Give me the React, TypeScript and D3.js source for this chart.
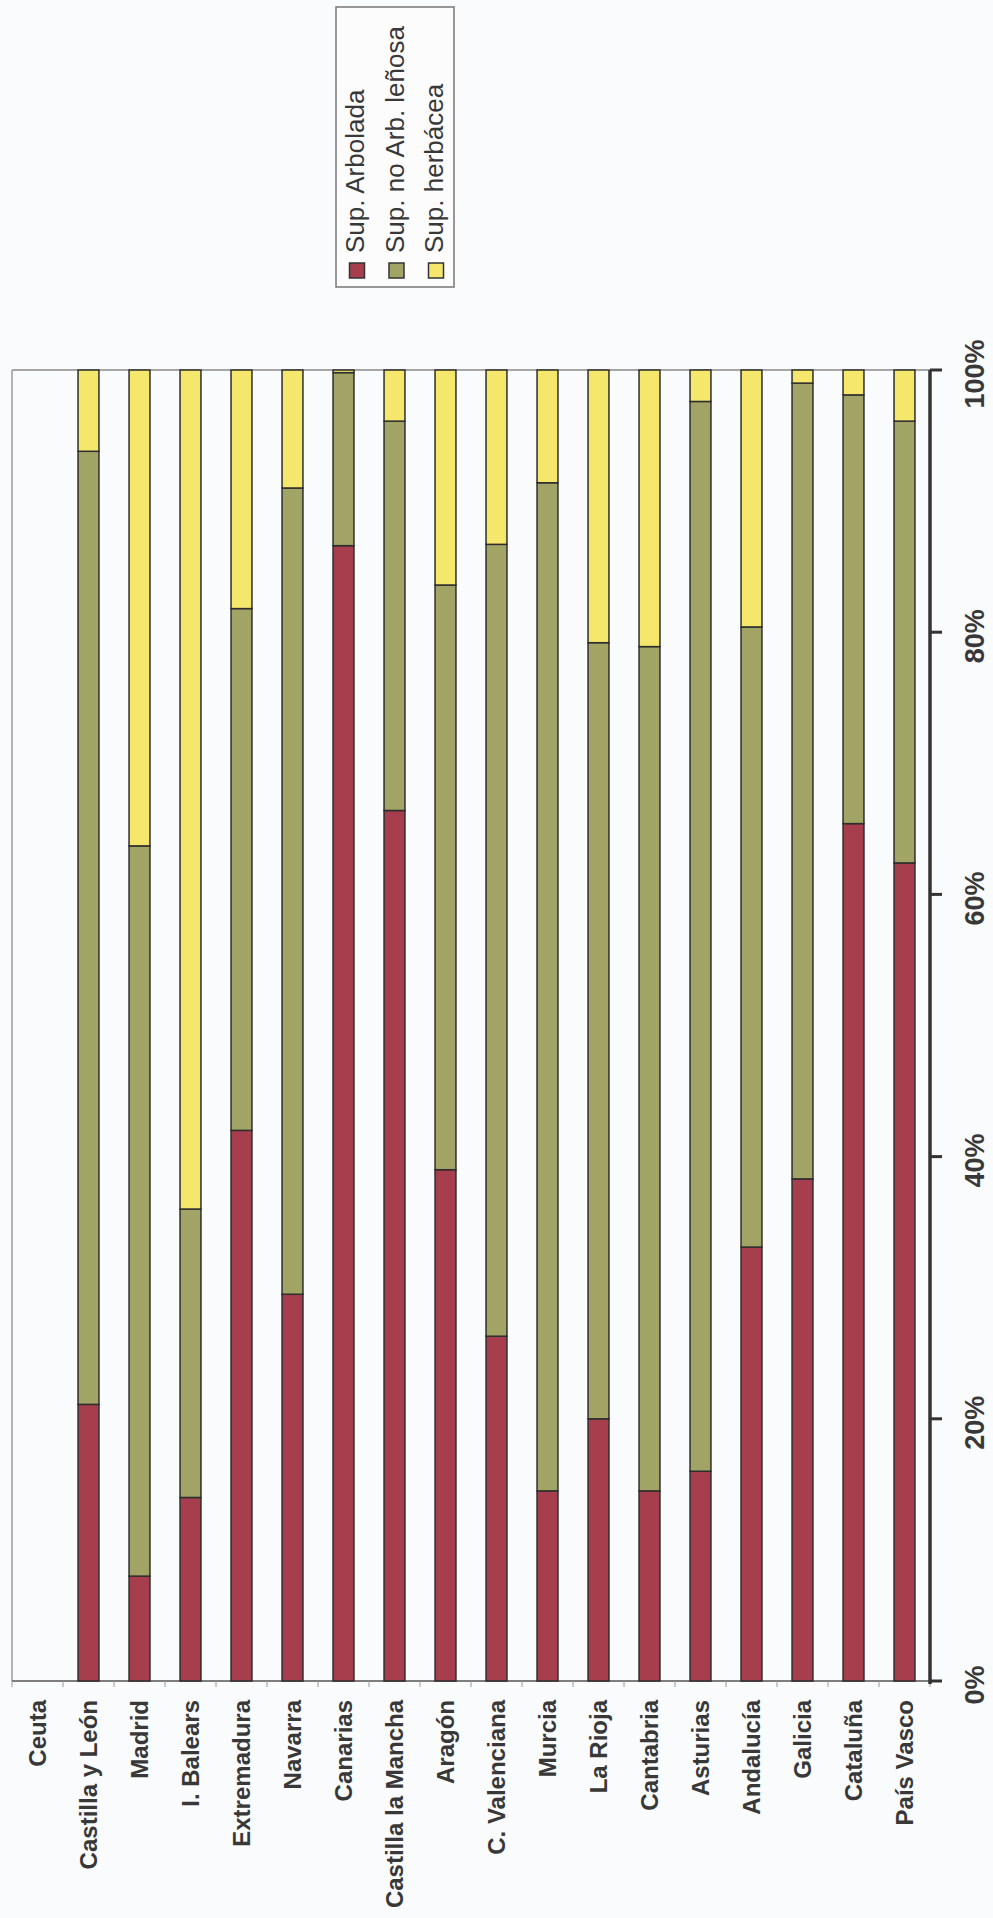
import React from "react";
import * as d3 from "d3";

const categories = [
  "Ceuta", "Castilla y León", "Madrid", "I. Balears", "Extremadura", "Navarra",
  "Canarias", "Castilla la Mancha", "Aragón", "C. Valenciana", "Murcia", "La Rioja",
  "Cantabria", "Asturias", "Andalucía", "Galicia", "Cataluña", "País Vasco",
];
const arbolada = [0, 21.1, 8.0, 14.0, 42.0, 29.5, 86.6, 66.4, 39.0, 26.3, 14.5, 20.0, 14.5, 16.0, 33.1, 38.3, 65.4, 62.4];
const noArbLenosa = [0, 72.7, 55.7, 22.0, 39.8, 61.5, 13.2, 29.7, 44.6, 60.4, 76.9, 59.2, 64.4, 81.6, 47.3, 60.7, 32.7, 33.7];
const herbacea = [0, 6.2, 36.3, 64.0, 18.2, 9.0, 0.2, 3.9, 16.4, 13.3, 8.6, 20.8, 21.1, 2.4, 19.6, 1.0, 1.9, 3.9];
const seriesNames = ["Sup. Arbolada", "Sup. no Arb. leñosa", "Sup. herbácea"];
const seriesKeys = ["arbolada", "lenosa", "herbacea"];
const colors = ["#A63E4E", "#A2A466", "#F5E76C"];
const tickValues = [0, 20, 40, 60, 80, 100];

const W = 993;
const H = 1918;
const left = 12;
const right = 930;
const top = 370;
const bottom = 1681;

export default function App() {
  const rows = categories.map((c, i) => ({
    cat: c,
    arbolada: arbolada[i],
    lenosa: noArbLenosa[i],
    herbacea: herbacea[i],
  }));
  const stacked = d3.stack<any>().keys(seriesKeys)(rows);
  const x = d3
    .scaleBand<string>()
    .domain(categories)
    .range([left, right])
    .paddingInner(0.59)
    .paddingOuter(0.295);
  const y = d3.scaleLinear().domain([0, 100]).range([bottom, top]);
  const step = x.step();
  const bw = x.bandwidth();

  const textColor = "#383838";
  const font = "'Liberation Sans', Arial, sans-serif";

  return (
    <svg
      width={W}
      height={H}
      viewBox={`0 0 ${W} ${H}`}
      style={{ position: "absolute", left: 0, top: 0, background: "#FAFBFD" }}
    >
      {/* plot frame */}
      <line x1={left} x2={right} y1={top} y2={top} stroke="#8a8a8a" strokeWidth={1.5} />
      <line x1={left} x2={left} y1={top} y2={bottom} stroke="#9a9a9a" strokeWidth={1.5} />
      <line x1={left} x2={right} y1={bottom} y2={bottom} stroke="#555" strokeWidth={1.5} />
      {d3.range(categories.length + 1).map((k) => (
        <line
          key={"bt" + k}
          x1={left + k * step}
          x2={left + k * step}
          y1={bottom}
          y2={bottom + 6}
          stroke="#9a9a9a"
          strokeWidth={1}
        />
      ))}

      {/* bars */}
      {stacked.map((s, si) => (
        <g key={s.key}>
          {s.map((d, i) => {
            const h = y(d[0]) - y(d[1]);
            if (h <= 0) return null;
            return (
              <rect
                key={i}
                x={x(categories[i])}
                y={y(d[1])}
                width={bw}
                height={h}
                fill={colors[si]}
                stroke="#2e2e2e"
                strokeWidth={1.5}
              />
            );
          })}
        </g>
      ))}

      {/* value axis on the right */}
      <line x1={right} x2={right} y1={top} y2={bottom + 3} stroke="#333" strokeWidth={3.5} />
      {tickValues.map((t) => (
        <g key={"t" + t}>
          <line x1={right} x2={right + 12} y1={y(t)} y2={y(t)} stroke="#333" strokeWidth={3} />
          <text
            transform={`translate(${984},${y(t) + 4}) rotate(-90)`}
            textAnchor="middle"
            fontFamily={font}
            fontWeight="bold"
            fontSize={27}
            fill={textColor}
          >
            {t + "%"}
          </text>
        </g>
      ))}

      {/* category labels */}
      {categories.map((c) => (
        <text
          key={"c" + c}
          transform={`translate(${(x(c) as number) + bw / 2 + 8},${1700}) rotate(-90)`}
          textAnchor="end"
          fontFamily={font}
          fontWeight="bold"
          fontSize={24}
          fill={textColor}
        >
          {c}
        </text>
      ))}

      {/* legend */}
      <rect x={336} y={7} width={118} height={280} fill="#FCFCFD" stroke="#777" strokeWidth={1.5} />
      {seriesNames.map((n, i) => {
        const cx = 357 + i * 39.5;
        return (
          <g key={"l" + i}>
            <rect x={cx - 7.5} y={263} width={15} height={15} fill={colors[i]} stroke="#333" strokeWidth={1.5} />
            <text
              transform={`translate(${cx + 7},${253}) rotate(-90)`}
              textAnchor="start"
              fontFamily={font}
              fontSize={26}
              fill={textColor}
            >
              {n}
            </text>
          </g>
        );
      })}
    </svg>
  );
}
